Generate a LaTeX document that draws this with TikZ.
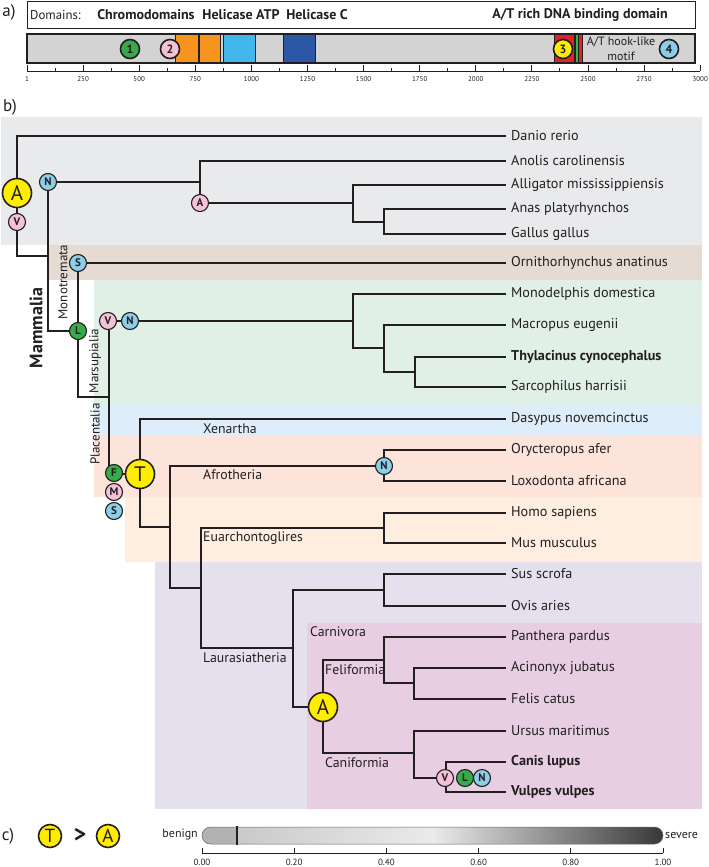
\documentclass[tikz,border=0pt]{standalone}
\usepackage{fontspec}
\setmainfont{PT Sans}
\usetikzlibrary{calc}
\definecolor{linec}{RGB}{35,31,32}
\definecolor{bandgray}{RGB}{233,234,236}
\definecolor{bandbrown}{RGB}{229,219,210}
\definecolor{bandgreen}{RGB}{225,240,230}
\definecolor{bandblue}{RGB}{221,238,250}
\definecolor{bandsalmon}{RGB}{252,228,218}
\definecolor{bandpeach}{RGB}{254,238,224}
\definecolor{bandlav}{RGB}{229,224,238}
\definecolor{bandpink}{RGB}{232,206,227}
\definecolor{cyellow}{RGB}{255,237,0}
\definecolor{cgreen}{RGB}{57,170,74}
\definecolor{cpink}{RGB}{245,193,214}
\definecolor{cblue}{RGB}{140,206,232}
\definecolor{domorange}{RGB}{247,148,29}
\definecolor{domlblue}{RGB}{66,183,236}
\definecolor{domdblue}{RGB}{43,87,166}
\definecolor{domred}{RGB}{226,35,38}
\definecolor{domgreen}{RGB}{57,181,74}
\definecolor{bargray}{RGB}{211,211,212}
\pgfdeclarehorizontalshading{sevshade}{100bp}{rgb(0bp)=(0.70,0.70,0.70); rgb(25bp)=(0.70,0.70,0.70); rgb(28.8bp)=(0.70,0.70,0.70); rgb(28.9bp)=(0.79,0.79,0.79); rgb(50bp)=(0.92,0.92,0.92); rgb(75bp)=(0.22,0.22,0.22); rgb(100bp)=(0.22,0.22,0.22)}
\tikzset{
  br/.style={line width=1.4pt, draw=linec},
  mk/.style={circle, draw=linec, line width=1.1pt, minimum size=17pt, inner sep=0pt, text=linec, font=\bfseries\fontsize{11}{11}\selectfont},
  bigmk/.style={circle, draw=linec, line width=1.6pt, minimum size=29pt, inner sep=0pt, fill=cyellow, text=linec, font=\fontsize{21}{21}\selectfont},
  domk/.style={circle, draw=linec, line width=1.6pt, minimum size=19pt, inner sep=0pt, text=linec, font=\bfseries\fontsize{12}{12}\selectfont},
  sp/.style={anchor=west, inner xsep=5pt, inner ysep=0pt, font=\fontsize{14.2}{14.2}\selectfont, text=linec},
  clade/.style={anchor=west, inner sep=0pt, font=\fontsize{13.8}{13.8}\selectfont, text=linec},
  rotl/.style={rotate=90, inner sep=0pt, font=\fontsize{13}{13}\selectfont, text=linec},
  dom/.style={draw=linec, line width=0.8pt},
  panel/.style={inner sep=0pt, font=\fontsize{17}{17}\selectfont, text=linec},
  tick/.style={draw=linec, line width=0.9pt},
  ticklab/.style={inner sep=0pt, font=\fontsize{7}{7}\selectfont, text=linec},
  domtitle/.style={inner sep=0pt, font=\bfseries\fontsize{14}{14}\selectfont, text=linec},
}
\begin{document}
\begin{tikzpicture}[x=1pt,y=-1pt]
\useasboundingbox (0,0) rectangle (709,867);
% ---------------- a) ----------------
\node[panel] (pa) at (9,12) {a)};
\node[draw=linec, line width=1.4pt, minimum width=668pt, minimum height=27pt, inner sep=0pt, anchor=north west] (dombox) at (27,1) {};
\node[anchor=west, inner sep=0pt, font=\fontsize{12.8}{12.8}\selectfont, text=linec] (domlab) at (30,15) {Domains:};
\node[domtitle] (chromo) at (146,15) {Chromodomains};
\node[domtitle] (helatp) at (241,15) {Helicase ATP};
\node[domtitle] (helc) at (317,15) {Helicase C};
\node[domtitle] (atrich) at (580,15) {A/T rich DNA binding domain};
\node[draw=linec, line width=1.4pt, fill=bargray, minimum width=668pt, minimum height=29pt, inner sep=0pt, anchor=north west] (bar) at (27,34) {};
\path[dom, fill=domorange] (175,34) rectangle (198.5,63);
\path[dom, fill=domorange] (199.5,34) rectangle (220,63);
\path[dom, fill=domlblue] (223,34) rectangle (255,63);
\path[dom, fill=domdblue] (283,34) rectangle (315,63);
\path[dom, fill=domred] (554,34) rectangle (574.5,63);
\path[dom, fill=domgreen] (575,34) rectangle (578,63);
\path[dom, fill=domred] (578.5,34) rectangle (582.5,63);
\draw[linec, line width=1.4pt] (27,34) rectangle (695,63);
\node[domk, fill=cgreen] (d1) at (130,49) {1};
\node[domk, fill=cpink] (d2) at (170,49) {2};
\node[domk, fill=cyellow] (d3) at (563,49) {3};
\node[domk, fill=cblue] (d4) at (669,49) {4};
\node[inner sep=0pt, font=\fontsize{12}{12}\selectfont, text=linec] (hook1) at (621,42) {A/T hook-like};
\node[inner sep=0pt, font=\fontsize{12}{12}\selectfont, text=linec] (hook2) at (621,56) {motif};
\draw[tick] (27,71) -- (700,71);
\foreach \p/\l in {0/1,250/250,500/500,750/750,1000/1000,1250/1250,1500/1500,1750/1750,2000/2000,2250/2250,2500/2500,2750/2750,3000/3000}{
  \draw[tick] ({27+\p*0.2244},71) -- ({27+\p*0.2244},65.5);
  \node[ticklab] at ({27+\p*0.2244},79) {\l};
}
\foreach \p in {125,375,...,2875}{
  \draw[tick] ({27+\p*0.2244},71) -- ({27+\p*0.2244},68.5);
}
% ---------------- b) ----------------
\node[panel] (pb) at (10,107) {b)};
\fill[bandgray] (1,117) rectangle (702,245);
\fill[bandbrown] (49,245) rectangle (702,280);
\fill[bandgreen] (94,280) rectangle (702,406);
\fill[bandblue] (94,406) rectangle (702,436);
\fill[bandsalmon] (94,436) rectangle (702,497);
\fill[bandpeach] (125,497) rectangle (702,562);
\fill[bandlav] (155,562) rectangle (702,809);
\fill[bandpink] (307,623) rectangle (702,809);
% leaves
\foreach \n/\y/\t in {danio/136/Danio rerio, anolis/161/Anolis carolinensis, alli/185/Alligator mississippiensis, anas/209/Anas platyrhynchos, gallus/234/Gallus gallus, orni/263/Ornithorhynchus anatinus, mono/294/Monodelphis domestica, macro/325/Macropus eugenii, thyl/357/{\bfseries Thylacinus cynocephalus}, sarco/387/Sarcophilus harrisii, dasy/419/Dasypus novemcinctus, oryc/450/Orycteropus afer, loxo/481/Loxodonta africana, homo/513/Homo sapiens, mus/543/Mus musculus, sus/574/Sus scrofa, ovis/606/Ovis aries, panth/637/Panthera pardus, acin/668/Acinonyx jubatus, felis/699/Felis catus, ursus/731/Ursus maritimus, canis/762/{\bfseries Canis lupus}, vulpes/792/{\bfseries Vulpes vulpes}}{
  \node[sp] (\n) at (506,\y) {\t};
}
% internal nodes
\coordinate (R) at (17,193);
\coordinate (C1) at (48,256);
\coordinate (C2) at (200,182);
\coordinate (C4) at (353,203);
\coordinate (C5) at (384,222);
\coordinate (C3) at (78,331);
\coordinate (C6) at (109,397);
\coordinate (C7) at (353,321);
\coordinate (C9) at (384,348);
\coordinate (C10) at (415,372);
\coordinate (C8) at (140,474);
\coordinate (C11) at (170,527);
\coordinate (C12) at (384,466);
\coordinate (C13) at (201,588);
\coordinate (C14) at (384,528);
\coordinate (C15) at (293,648);
\coordinate (C16) at (384,590);
\coordinate (C17) at (323,707);
\coordinate (C18) at (384,660);
\coordinate (C20) at (414,683);
\coordinate (C19) at (414,753);
\coordinate (C21) at (446,778);
\draw[br] (R) |- (danio.west);
\draw[br] (R) |- (C1);
\draw[br] (C1) |- (C2);
\draw[br] (C1) |- (C3);
\draw[br] (C2) |- (anolis.west);
\draw[br] (C2) |- (C4);
\draw[br] (C4) |- (alli.west);
\draw[br] (C4) |- (C5);
\draw[br] (C5) |- (anas.west);
\draw[br] (C5) |- (gallus.west);
\draw[br] (C3) |- (orni.west);
\draw[br] (C3) |- (C6);
\draw[br] (C6) |- (C7);
\draw[br] (C6) |- (C8);
\draw[br] (C7) |- (mono.west);
\draw[br] (C7) |- (C9);
\draw[br] (C9) |- (macro.west);
\draw[br] (C9) |- (C10);
\draw[br] (C10) |- (thyl.west);
\draw[br] (C10) |- (sarco.west);
\draw[br] (C8) |- (dasy.west);
\draw[br] (C8) |- (C11);
\draw[br] (C11) |- (C12);
\draw[br] (C11) |- (C13);
\draw[br] (C12) |- (oryc.west);
\draw[br] (C12) |- (loxo.west);
\draw[br] (C13) |- (C14);
\draw[br] (C13) |- (C15);
\draw[br] (C14) |- (homo.west);
\draw[br] (C14) |- (mus.west);
\draw[br] (C15) |- (C16);
\draw[br] (C15) |- (C17);
\draw[br] (C16) |- (sus.west);
\draw[br] (C16) |- (ovis.west);
\draw[br] (C17) |- (C18);
\draw[br] (C17) |- (C19);
\draw[br] (C18) |- (panth.west);
\draw[br] (C18) |- (C20);
\draw[br] (C20) |- (acin.west);
\draw[br] (C20) |- (felis.west);
\draw[br] (C19) |- (ursus.west);
\draw[br] (C19) |- (C21);
\draw[br] (C21) |- (canis.west);
\draw[br] (C21) |- (vulpes.west);
% markers
\node[bigmk] (mA1) at (17,193) {A};
\node[mk, fill=cpink] (mV1) at (17,222) {V};
\node[mk, fill=cblue] (mN1) at (48,182) {N};
\node[mk, fill=cpink] (mA2) at (200,203) {A};
\node[mk, fill=cblue] (mS1) at (78,263) {S};
\node[mk, fill=cgreen] (mL1) at (78,331) {L};
\node[mk, fill=cpink] (mV2) at (108,321) {V};
\node[mk, fill=cblue] (mN2) at (130,321) {N};
\node[mk, fill=cgreen] (mF) at (114,473) {F};
\node[mk, fill=cpink] (mM) at (114,492) {M};
\node[mk, fill=cblue] (mS2) at (114,511) {S};
\node[bigmk] (mT) at (140,474) {T};
\node[mk, fill=cblue] (mN3) at (384,466) {N};
\node[bigmk] (mA3) at (323,707) {A};
\node[mk, fill=cpink] (mV3) at (445,778) {V};
\node[mk, fill=cgreen] (mL2) at (465,778) {L};
\node[mk, fill=cblue] (mN4) at (482,778) {N};
% clade labels
\node[rotl, font=\bfseries\fontsize{18}{18}\selectfont] (mamm) at (36,328) {Mammalia};
\node[rotl] (monot) at (63,282) {Monotremata};
\node[rotl] (mars) at (95,361) {Marsupialia};
\node[rotl] (plac) at (95,434) {Placentalia};
\node[clade] (xen) at (203,429) {Xenartha};
\node[clade] (afro) at (203,475) {Afrotheria};
\node[clade] (euar) at (203,538) {Euarchontoglires};
\node[clade] (laur) at (203,658) {Laurasiatheria};
\node[clade] (carn) at (310,632) {Carnivora};
\node[clade] (feli) at (325,670) {Feliformia};
\node[clade] (cani) at (325,763) {Caniformia};
% ---------------- c) ----------------
\node[panel] (pc) at (8,836) {c)};
\node[bigmk, minimum size=23pt, font=\fontsize{19}{19}\selectfont] (cT) at (50,836) {T};
\node[inner sep=0pt, font=\bfseries\fontsize{24}{24}\selectfont, text=linec] (gt) at (80,835) {>};
\node[bigmk, minimum size=23pt, font=\fontsize{19}{19}\selectfont] (cA) at (108,836) {A};
\node[anchor=east, inner sep=0pt, font=\fontsize{12}{12}\selectfont, text=linec] (benign) at (198,835) {benign};
\path[shading=sevshade, rounded corners=8.5pt] (202,827) rectangle (663,844);
\draw[gray!80!black, line width=0.5pt, rounded corners=8.5pt] (202,827) rectangle (663,844);
\draw[linec, line width=2pt] (237,826) -- (237,845);
\node[anchor=west, inner sep=0pt, font=\fontsize{12}{12}\selectfont, text=linec] (severe) at (665,835) {severe};
\draw[tick] (202,853) -- (663,853);
\foreach \v/\l in {0/0.00,1/0.20,2/0.40,3/0.60,4/0.80,5/1.00}{
  \draw[tick] ({202+\v*92.2},853) -- ({202+\v*92.2},848);
  \node[inner sep=0pt, font=\fontsize{9}{9}\selectfont, text=linec] at ({202+\v*92.2},862) {\l};
}
\end{tikzpicture}
\end{document}
